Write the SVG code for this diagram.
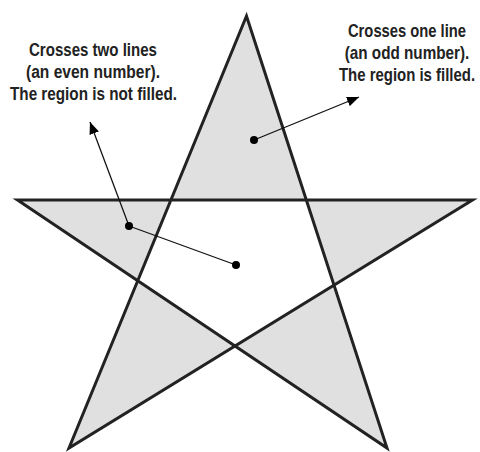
<svg xmlns="http://www.w3.org/2000/svg" width="480" height="452" viewBox="0 0 480 452">
  <style>
    .lbl { font-family: "Liberation Sans", Arial, sans-serif; font-size: 18px; font-weight: bold; fill: #222; text-anchor: middle; }
    .star { fill: #e0e0e0; fill-rule: evenodd; stroke: #222; stroke-width: 3; stroke-linejoin: miter; }
    .conn { stroke: #111; stroke-width: 1.3; fill: none; }
    .dot { fill: #000; }
  </style>
  <defs>
    <marker id="arrow" viewBox="0 0 12 10" refX="12" refY="5" markerWidth="12" markerHeight="10" markerUnits="userSpaceOnUse" orient="auto">
      <path d="M0,0 L12,5 L0,10 Z" fill="#000"/>
    </marker>
  </defs>
  <rect width="480" height="452" fill="#fff"/>
  <g id="star">
    <path class="star" d="M246.5,16 L69,448 L472.5,200 L17.5,200 L387,448 Z"/>
  </g>
  <g id="label-left">
    <text class="lbl" x="93" y="56" textLength="128" lengthAdjust="spacingAndGlyphs">Crosses two lines</text>
    <text class="lbl" x="93" y="78" textLength="134" lengthAdjust="spacingAndGlyphs">(an even number).</text>
    <text class="lbl" x="93.5" y="100" textLength="167" lengthAdjust="spacingAndGlyphs">The region is not filled.</text>
  </g>
  <g id="label-right">
    <text class="lbl" transform="translate(407,37) scale(0.82,1)" x="0" y="0" textLength="144" lengthAdjust="spacingAndGlyphs">Crosses one line</text>
    <text class="lbl" transform="translate(407,59) scale(0.82,1)" x="0" y="0" textLength="152" lengthAdjust="spacingAndGlyphs">(an odd number).</text>
    <text class="lbl" transform="translate(407,81) scale(0.82,1)" x="0" y="0" textLength="166" lengthAdjust="spacingAndGlyphs">The region is filled.</text>
  </g>
  <g id="connectors">
    <line class="conn" x1="254" y1="140" x2="359" y2="97" marker-end="url(#arrow)"/>
    <line class="conn" x1="236" y1="265" x2="129" y2="226"/>
    <line class="conn" x1="129" y1="226" x2="90" y2="122" marker-end="url(#arrow)"/>
  </g>
  <g id="dots">
    <circle class="dot" cx="254" cy="140" r="4"/>
    <circle class="dot" cx="129" cy="226" r="4"/>
    <circle class="dot" cx="236" cy="265" r="4"/>
  </g>
</svg>
